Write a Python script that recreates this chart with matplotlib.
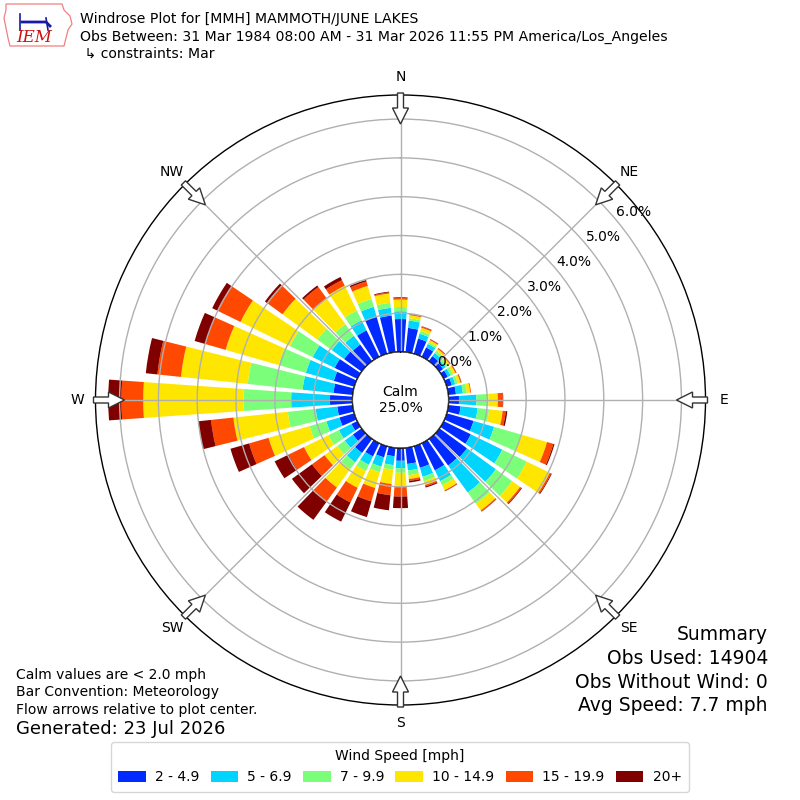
import numpy as np
import matplotlib
matplotlib.use("Agg")
import matplotlib.pyplot as plt
from matplotlib.patches import Circle, FancyArrow, Polygon

# ---------------- data (percent of observations) ----------------
directions = np.arange(0, 360, 10)
speed_bins = ["2 - 4.9", "5 - 6.9", "7 - 9.9", "10 - 14.9", "15 - 19.9", "20+"]
colors = ["#002aff", "#00d4ff", "#7bff7b", "#ffe600", "#ff4800", "#800000"]

s_2_5 = [0.85, 0.63, 0.41, 0.27, 0.16, 0.12, 0.12, 0.14, 0.20, 0.27, 0.32, 0.72,
         0.78, 0.88, 0.85, 0.78, 0.58, 0.42, 0.33, 0.22, 0.30, 0.38, 0.45, 0.28,
         0.17, 0.40, 0.40, 0.58, 0.50, 0.55, 0.65, 0.56, 0.53, 0.76, 1.00, 0.95]
s_5_7 = [0.20, 0.19, 0.13, 0.10, 0.10, 0.08, 0.08, 0.09, 0.18, 0.45, 0.44, 0.55,
         0.90, 0.92, 0.86, 0.31, 0.24, 0.17, 0.19, 0.23, 0.25, 0.24, 0.30, 0.26,
         0.36, 0.35, 0.56, 1.00, 0.80, 0.75, 0.63, 0.39, 0.28, 0.29, 0.26, 0.20]
s_7_10 = [0.11, 0.06, 0.07, 0.05, 0.07, 0.07, 0.07, 0.07, 0.10, 0.31, 0.30, 0.73,
          0.70, 0.52, 0.36, 0.12, 0.12, 0.12, 0.12, 0.12, 0.15, 0.18, 0.22, 0.24,
          0.30, 0.45, 0.72, 1.23, 1.42, 0.73, 0.65, 0.46, 0.37, 0.28, 0.21, 0.13]
s_10_15 = [0.19, 0.08, 0.09, 0.06, 0.06, 0.06, 0.07, 0.07, 0.09, 0.24, 0.35, 0.69,
           0.66, 0.25, 0.21, 0.14, 0.10, 0.10, 0.36, 0.37, 0.42, 0.48, 0.58, 0.40,
           0.70, 1.10, 1.41, 2.58, 1.73, 1.42, 1.42, 1.11, 0.82, 0.71, 0.35, 0.24]
s_15_20 = [0.04, 0.02, 0.03, 0.02, 0.02, 0.02, 0.02, 0.02, 0.02, 0.13, 0.08, 0.17,
           0.04, 0.04, 0.03, 0.02, 0.04, 0.05, 0.25, 0.29, 0.36, 0.42, 0.45, 0.40,
           0.44, 0.52, 0.58, 0.56, 0.61, 0.54, 0.67, 0.50, 0.36, 0.16, 0.12, 0.03]
s_20p = [0.02, 0.01, 0.01, 0.01, 0.01, 0.01, 0.01, 0.01, 0.00, 0.01, 0.04, 0.03,
         0.02, 0.02, 0.01, 0.01, 0.03, 0.04, 0.30, 0.39, 0.42, 0.55, 0.58, 0.64,
         0.40, 0.50, 0.33, 0.34, 0.30, 0.29, 0.14, 0.06, 0.05, 0.09, 0.04, 0.02]
series = [s_2_5, s_5_7, s_7_10, s_10_15, s_15_20, s_20p]

rticks = [0, 1, 2, 3, 4, 5, 6]
compass = ["N", "NE", "E", "SE", "S", "SW", "W", "NW"]
calm_pct = 25.0

# ---------------- figure ----------------
fig = plt.figure(figsize=(8, 8), dpi=100)
R_PX = 305.0
ax = fig.add_axes([95.5 / 800, 95 / 800, 610 / 800, 610 / 800], projection="polar")
ax.set_theta_zero_location("N")
ax.set_theta_direction(-1)

calm_frac = 48.0 / R_PX           # fraction of radius used by calm circle
rmax = 6.62
ax.set_ylim(0, rmax)
ax.set_rorigin(-rmax * calm_frac / (1 - calm_frac))

theta = np.deg2rad(directions)
width = np.deg2rad(10) * 0.8
bottom = np.zeros(len(directions))
handles = []
for vals, col, lab in zip(series, colors, speed_bins):
    vals = np.asarray(vals)
    h = ax.bar(theta, vals, width=width, bottom=bottom, color=col,
               edgecolor="none", label=lab, zorder=2)
    handles.append(h)
    bottom = bottom + vals

ax.set_axisbelow(False)
ax.set_yticks(rticks)
ax.set_yticklabels([f"{v:.1f}%" for v in rticks], fontsize=10)
ax.set_rlabel_position(50)
ax.set_xticks(np.deg2rad(np.arange(0, 360, 45)))
ax.set_xticklabels(compass, fontsize=10)
ax.tick_params(axis="x", pad=2.5)
ax.grid(True, color="#b0b0b0", lw=1, zorder=3)
ax.spines["polar"].set_color("black")
ax.spines["polar"].set_linewidth(1)

# calm circle
ax.add_artist(Circle((0.5, 0.5), calm_frac * 0.5, transform=ax.transAxes,
                     facecolor="white", edgecolor="black", lw=1.2, zorder=5))
ax.text(0.5, 0.5, f"Calm\n{calm_pct:.1f}%", transform=ax.transAxes,
        ha="center", va="center", fontsize=10, zorder=6, linespacing=1.2)

# flow arrows at compass points
for ang in np.deg2rad(np.arange(0, 360, 45)):
    ux, uy = np.sin(ang), np.cos(ang)
    r0, r1 = 0.5 + 2 / 610, 0.5 - 29 / 610
    ax.add_artist(FancyArrow(0.5 + r0 * ux, 0.5 + r0 * uy,
                             (r1 - r0) * ux, (r1 - r0) * uy,
                             width=6 / 610, head_width=16 / 610, head_length=16 / 610,
                             length_includes_head=True, transform=ax.transAxes,
                             facecolor="white", edgecolor="#333333", lw=1,
                             clip_on=False, zorder=7))

# ---------------- texts ----------------
fig.text(80 / 800, 1 - 19 / 800, "Windrose Plot for [MMH] MAMMOTH/JUNE LAKES",
         fontsize=10.1, va="center", ha="left")
fig.text(80 / 800, 1 - 37 / 800,
         "Obs Between: 31 Mar 1984 08:00 AM - 31 Mar 2026 11:55 PM America/Los_Angeles",
         fontsize=10.1, va="center", ha="left")
fig.text(80 / 800, 1 - 54 / 800, " \u21b3 constraints: Mar",
         fontsize=10.1, va="center", ha="left")

fig.text(16 / 800, 1 - 675 / 800, "Calm values are < 2.0 mph", fontsize=10, va="center")
fig.text(16 / 800, 1 - 692 / 800, "Bar Convention: Meteorology", fontsize=10, va="center")
fig.text(16 / 800, 1 - 710 / 800, "Flow arrows relative to plot center.", fontsize=10, va="center")
fig.text(16 / 800, 1 - 729 / 800, "Generated: 23 Jul 2026", fontsize=13, va="center")

summary = ["Summary", "Obs Used: 14904", "Obs Without Wind: 0", "Avg Speed: 7.7 mph"]
for i, s in enumerate(summary):
    fig.text(768 / 800, 1 - (635 + i * 23.5) / 800, s, fontsize=13.5,
             ha="right", va="center")

leg = fig.legend(handles=handles, labels=speed_bins, loc="lower center",
                 bbox_to_anchor=(0.5, 0.01), borderaxespad=0, ncol=6, fontsize=10,
                 title="Wind Speed [mph]", title_fontsize=10,
                 handlelength=2.0, handleheight=0.9, handletextpad=0.65,
                 columnspacing=0.8, borderpad=0.55, frameon=True)

# ---------------- IEM logo ----------------
lax = fig.add_axes([0, 1 - 52 / 800, 75 / 800, 52 / 800])
lax.set_xlim(0, 75)
lax.set_ylim(52, 0)
lax.axis("off")
outline = [(6, 4), (62, 4), (64, 10), (70, 16), (72, 24), (68, 30), (66, 38),
           (64, 46), (10, 46), (8, 38), (6, 28), (4, 18), (6, 10)]
lax.add_patch(Polygon(outline, closed=True, facecolor="none",
                      edgecolor="#f08080", lw=0.9))
lax.plot([22, 46, 50], [22, 22, 26], color="#1a1aa0", lw=2)
lax.plot([20, 20], [14, 30], color="#1a1aa0", lw=1.2)
lax.plot([46, 48], [18, 30], color="#1a1aa0", lw=1.2)
lax.text(34, 38, "IEM", color="#cc1111", fontsize=12, fontstyle="italic",
         family="DejaVu Serif", ha="center", va="center")

fig.savefig("out.png", dpi=100)
